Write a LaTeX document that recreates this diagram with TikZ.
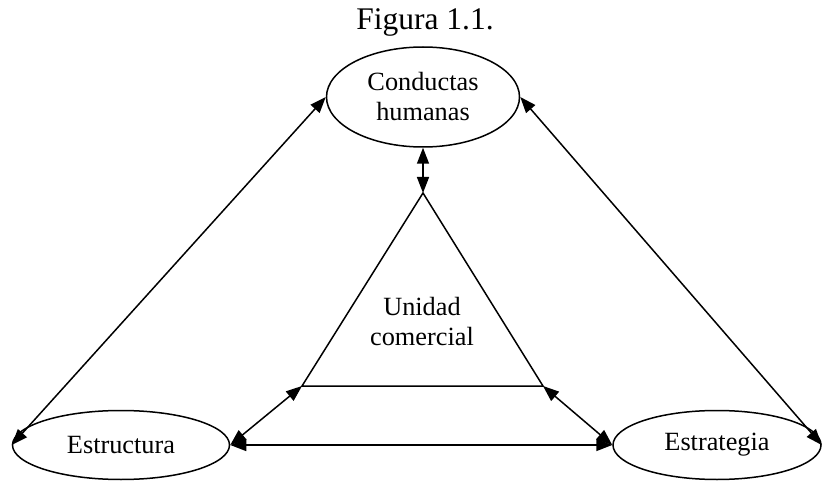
\documentclass[tikz,border=0pt]{standalone}
\usepackage{fontspec}
\setmainfont{Liberation Serif}
\usetikzlibrary{shapes.geometric,arrows.meta}
\begin{document}
\begin{tikzpicture}[x=1pt,y=-1pt,
  oval/.style={draw,ellipse,line width=1.5pt,inner sep=0pt,font=\fontsize{26.3}{30}\selectfont,align=center},
  lbl/.style={font=\fontsize{26.3}{30}\selectfont,align=center},
  link/.style={line width=1.5pt,{Triangle[length=16pt,width=12pt]}-{Triangle[length=16pt,width=12pt]}},
  edge/.style={line width=1.5pt,line join=miter}]
\useasboundingbox (0,0) rectangle (822,481);
\node[font=\fontsize{31.5}{36}\selectfont] (title) at (425,22) {Figura 1.1.};
\node[oval,minimum width=193pt,minimum height=100pt] (ch) at (423,97) {Conductas\\humanas};
\node[oval,minimum width=217pt,minimum height=69pt] (es) at (121,445) {Estructura};
\node[oval,minimum width=208pt,minimum height=69pt] (et) at (717,445) {Estrategia};
\coordinate (apex) at (423,193);
\coordinate (bl) at (302,386);
\coordinate (br) at (543,386);
\draw[edge] (apex) -- (bl) -- (br) -- cycle;
\node[lbl] (uc) at (422,322) {Unidad\\comercial};
\draw[link] (ch.west) -- (es.west);
\draw[link] (ch.east) -- (et.east);
\draw[link] (ch.south) -- (apex);
\draw[link] (bl) -- (es.east);
\draw[link] (br) -- (et.west);
\draw[link] (es.east) -- (et.west);
\end{tikzpicture}
\end{document}
